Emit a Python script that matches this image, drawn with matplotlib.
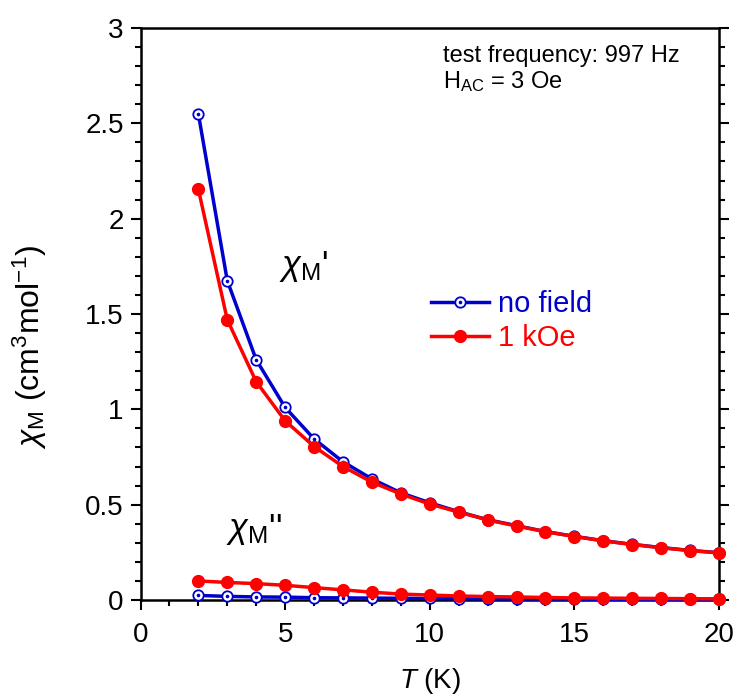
import matplotlib
matplotlib.use("Agg")
import matplotlib.pyplot as plt
from matplotlib.ticker import MultipleLocator, FuncFormatter

plt.rcParams['font.family'] = ['Liberation Sans', 'DejaVu Sans']
plt.rcParams['mathtext.fontset'] = 'custom'
plt.rcParams['mathtext.rm'] = 'Liberation Sans'
plt.rcParams['mathtext.it'] = 'Liberation Sans:italic'

T = [2, 3, 4, 5, 6, 7, 8, 9, 10, 11, 12, 13, 14, 15, 16, 17, 18, 19, 20]
chi1_nofield = [2.55, 1.675, 1.26, 1.01, 0.845, 0.725, 0.635, 0.562, 0.51, 0.463, 0.421,
                0.39, 0.359, 0.334, 0.311, 0.292, 0.275, 0.26, 0.248]
chi1_1kOe = [2.155, 1.47, 1.145, 0.94, 0.805, 0.70, 0.618, 0.556, 0.503, 0.461, 0.42,
             0.388, 0.358, 0.333, 0.31, 0.291, 0.274, 0.259, 0.247]
chi2_nofield = [0.024, 0.019, 0.016, 0.015, 0.012, 0.011, 0.010, 0.009, 0.008, 0.007, 0.006,
                0.006, 0.005, 0.005, 0.004, 0.004, 0.004, 0.003, 0.003]
chi2_1kOe = [0.100, 0.092, 0.086, 0.077, 0.065, 0.053, 0.041, 0.031, 0.026, 0.021, 0.018,
             0.016, 0.013, 0.011, 0.010, 0.009, 0.008, 0.007, 0.006]

blue = '#0000CC'
red = '#FF0000'

fig = plt.figure(figsize=(7.39, 6.98), dpi=100)
ax = fig.add_axes([140.5/739, 1-600/698, (719-140.5)/739, (600-28)/698])

def blue_series(y):
    l1, = ax.plot(T, y, color=blue, lw=2.5, marker='o', ms=7.5, mfc='white', mec=blue,
                  mew=1.3, clip_on=False, zorder=3)
    l2, = ax.plot(T, y, ls='none', marker='o', ms=1.6, mfc=blue, mec=blue, clip_on=False, zorder=4)
    return l1, l2

def red_series(y):
    l, = ax.plot(T, y, color=red, lw=2.5, marker='o', ms=8.5, mfc=red, mec=red,
                 clip_on=False, zorder=5)
    return l

hb = blue_series(chi1_nofield)
blue_series(chi2_nofield)
hr = red_series(chi1_1kOe)
red_series(chi2_1kOe)

ax.set_xlim(0, 20)
ax.set_ylim(0, 3)
ax.xaxis.set_major_locator(MultipleLocator(5))
ax.xaxis.set_minor_locator(MultipleLocator(1))
ax.yaxis.set_major_locator(MultipleLocator(0.5))
ax.yaxis.set_minor_locator(MultipleLocator(0.1))
ax.yaxis.set_major_formatter(FuncFormatter(lambda v, p: f"{v:g}"))

for s in ax.spines.values():
    s.set_linewidth(1.8)
ax.tick_params(which='both', direction='out', top=False, right=True, width=1.5,
               labelsize=20, pad=5)
ax.tick_params(axis='x', which='major', pad=9)
ax.tick_params(which='major', length=7)
ax.tick_params(which='minor', length=4.5)

ax.set_xlabel(r'$\it{T}$ (K)', fontsize=20, labelpad=13)
fig.text(30/739, 1-347/698, r'$\chi_{\rm M}$ (cm$^{3}$mol$^{-1}$)', rotation=90,
         ha='center', va='center', fontsize=23)

ax.text(443/739, 1-56/698, 'test frequency: 997 Hz', transform=fig.transFigure,
        fontsize=17, ha='left', va='center')
ax.text(443/739, 1-82/698, 'H$_{\\rm AC}$ = 3 Oe', transform=fig.transFigure,
        fontsize=17, ha='left', va='center')

ax.text(4.8, 1.75, r"$\chi_{\rm M}$'", fontsize=25, ha='left', va='center')
ax.text(2.95, 0.37, r"$\chi_{\rm M}$''", fontsize=25, ha='left', va='center')

leg = ax.legend([hb, hr], ['no field', '1 kOe'], loc='upper left',
                bbox_to_anchor=(431/739, 1-290/698), bbox_transform=fig.transFigure,
                frameon=False, fontsize=21, handlelength=2.0, handletextpad=0.3,
                labelspacing=0.2, borderaxespad=0, borderpad=0)
for t, c in zip(leg.get_texts(), [blue, red]):
    t.set_color(c)

fig.savefig('out.png', dpi=100)
